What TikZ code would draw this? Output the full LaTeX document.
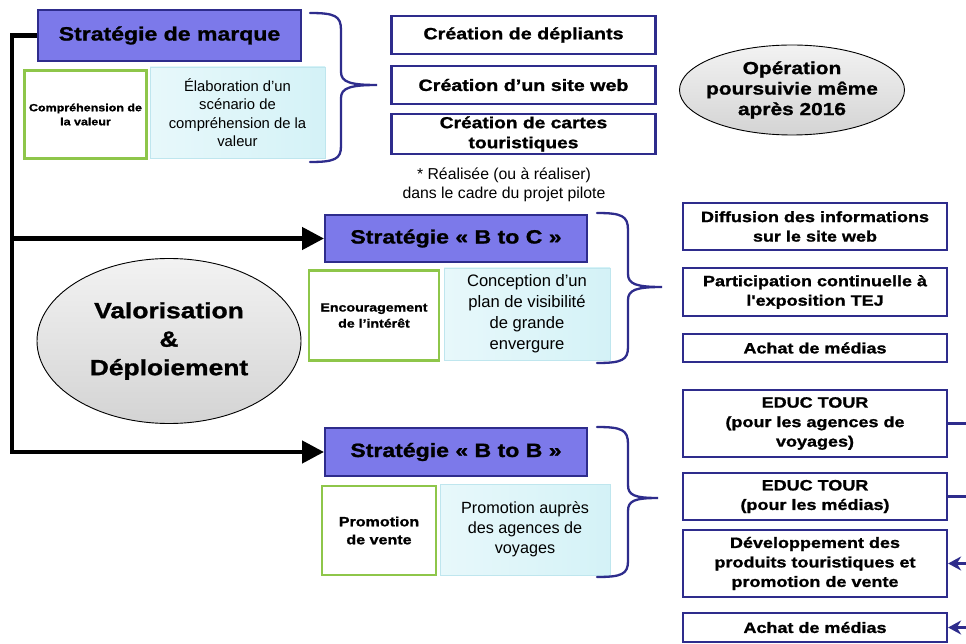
\documentclass[tikz,border=0pt]{standalone}
\usepackage{fontspec}
\setmainfont{Liberation Sans}
\newfontfamily\hv{Liberation Sans Bold}[FakeStretch=1.2,FakeBold=1.2]
\usetikzlibrary{shapes.geometric,arrows.meta}
\definecolor{navy}{HTML}{2E2C8C}
\definecolor{strat}{HTML}{7C79EA}
\definecolor{grn}{HTML}{8EC64A}
\definecolor{cyn}{HTML}{D4F2F7}
\definecolor{cynb}{HTML}{BFE6EE}
\tikzset{
  stratbox/.style={draw=navy, line width=2pt, fill=strat, inner sep=0pt,
    font={\hv\fontsize{19.2}{22}\selectfont}},
  greenbox/.style={draw=grn, line width=2.2pt, fill=white, inner sep=0pt, align=center},
  cyanbox/.style={draw=cynb, line width=0.6pt, left color=cyn!55!white, right color=cyn, inner sep=0pt, align=center},
  actbox/.style={draw=navy, line width=2.2pt, fill=white, inner sep=0pt, align=center,
    font={\hv\fontsize{15}{19.5}\selectfont}},
  ovalnode/.style={ellipse, draw=black, line width=0.9pt, top color=gray!10, bottom color=gray!34,
    inner sep=0pt, align=center},
  trunkline/.style={line width=4.5pt, draw=black},
  brc/.style={draw=navy, line width=2.3pt, line cap=round},
  navyline/.style={draw=navy, line width=2.6pt},
}
\begin{document}
\begin{tikzpicture}[x=1pt,y=-1pt]
\useasboundingbox (0,0) rectangle (966,644);
\fill[white] (0,0) rectangle (966,644);

% --- Stratégie de marque group
\node[stratbox, minimum width=263pt, minimum height=51pt] (sm) at (169.5,35.5) {Stratégie de marque};
\node[greenbox, minimum width=122pt, minimum height=88pt, font={\hv\fontsize{10.4}{14}\selectfont}] (g1) at (85.5,114.5) {Compréhension de\\la valeur};
\node[cyanbox, minimum width=175pt, minimum height=91pt, font={\fontsize{14.8}{18.5}\selectfont}] (c1) at (237.5,112.5) {Élaboration d’un\\scénario de\\compréhension de la\\valeur};
\draw[brc] (310,13) .. controls (335,13) and (341,16) .. (341,30) -- (341,72) .. controls (341,82) and (350,85) .. (377,85) .. controls (350,85) and (341,88) .. (341,98) -- (341,146) .. controls (341,159) and (335,162) .. (310,162);

\node[actbox, minimum width=264pt, minimum height=38pt, font={\hv\fontsize{16.4}{20}\selectfont}] (cr1) at (523.5,35) {Création de dépliants};
\node[actbox, minimum width=264pt, minimum height=38pt, font={\hv\fontsize{16.4}{20}\selectfont}] (cr2) at (523.5,85) {Création d’un site web};
\node[actbox, minimum width=264pt, minimum height=40pt, font={\hv\fontsize{16}{20}\selectfont}] (cr3) at (523.5,134) {Création de cartes\\touristiques};
\node[align=center, font={\fontsize{15.8}{19}\selectfont}] (note) at (504,185) {* Réalisée (ou à réaliser)\\dans le cadre du projet pilote};

\node[ovalnode, minimum width=225pt, minimum height=90pt, inner xsep=-11pt, inner ysep=0pt, font={\hv\fontsize{17.4}{20.5}\selectfont}] (op) at (792,90) {Opération\\poursuivie même\\après 2016};

% --- B to C group
\node[stratbox, minimum width=262pt, minimum height=47pt] (bc) at (456,238.5) {Stratégie « B to C »};
\node[greenbox, minimum width=130pt, minimum height=90pt, font={\hv\fontsize{11.8}{16}\selectfont}] (g2) at (374,315.5) {Encouragement\\de l’intérêt};
\node[cyanbox, minimum width=166pt, minimum height=92pt, font={\fontsize{16.6}{21}\selectfont}] (c2) at (527,314) {Conception d’un\\plan de visibilité\\de grande\\envergure};
\draw[brc] (597,213) .. controls (622,213) and (628,216) .. (628,230) -- (628,274) .. controls (628,284) and (636,287) .. (662,287) .. controls (636,287) and (628,290) .. (628,300) -- (628,347) .. controls (628,360) and (622,363) .. (597,363);

\node[actbox, minimum width=264pt, minimum height=47pt] (df) at (815,226.5) {Diffusion des informations\\sur le site web};
\node[actbox, minimum width=264pt, minimum height=48pt] (pa) at (815,292) {Participation continuelle à\\l'exposition TEJ};
\node[actbox, minimum width=264pt, minimum height=28pt] (am1) at (815,348) {Achat de médias};

% --- central oval
\node[ovalnode, minimum width=264pt, minimum height=165pt, font={\hv\fontsize{22}{28.5}\selectfont}] (val) at (169,341) {Valorisation\\\&\\Déploiement};

% --- B to B group
\node[stratbox, minimum width=262pt, minimum height=48pt] (bb) at (456,452) {Stratégie « B to B »};
\node[greenbox, minimum width=114pt, minimum height=89pt, font={\hv\fontsize{13.4}{18}\selectfont}] (g3) at (379,530.5) {Promotion\\de vente};
\node[cyanbox, minimum width=170pt, minimum height=91pt, font={\fontsize{16.2}{20}\selectfont}] (c3) at (525,529.5) {Promotion auprès\\des agences de\\voyages};
\draw[brc] (597,427) .. controls (622,427) and (628,430) .. (628,444) -- (628,485) .. controls (628,495) and (634,498) .. (658,498) .. controls (634,498) and (628,501) .. (628,511) -- (628,561) .. controls (628,574) and (622,577) .. (597,577);

\node[actbox, minimum width=264pt, minimum height=67pt] (ed1) at (815,423.5) {EDUC TOUR\\(pour les agences de\\voyages)};
\node[actbox, minimum width=264pt, minimum height=47pt] (ed2) at (815,496.5) {EDUC TOUR\\(pour les médias)};
\node[actbox, minimum width=264pt, minimum height=67pt] (dev) at (815,563.5) {Développement des\\produits touristiques et\\promotion de vente};
\node[actbox, minimum width=264pt, minimum height=29pt] (am2) at (815,627.5) {Achat de médias};

% --- trunk connectors
\coordinate (tk) at (12,35.5);
\draw[trunkline, -{Triangle[length=22pt,width=22pt]}] (sm.west) -- (tk) |- (bb.west);
\draw[trunkline, -{Triangle[length=22pt,width=22pt]}] (tk |- bc.west) -- (bc.west);

% --- right edge connectors
\coordinate (r1) at (966,423.5);
\coordinate (r2) at (966,496.5);
\coordinate (r3) at (968,563.5);
\coordinate (r4) at (968,627.5);
\draw[navyline] (ed1.east) -- (r1);
\draw[navyline] (ed2.east) -- (r2);
\draw[navyline, -{Stealth[length=13pt,width=14pt]}] (r3) -- (dev.east);
\draw[navyline, -{Stealth[length=13pt,width=14pt]}] (r4) -- (am2.east);
\end{tikzpicture}
\end{document}
